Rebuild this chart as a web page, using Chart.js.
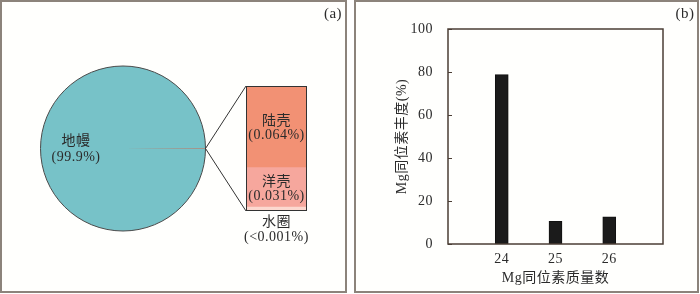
<!DOCTYPE html>
<html>
<head>
<meta charset="utf-8">
<script src="https://cdn.jsdelivr.net/npm/chart.js@4/dist/chart.umd.min.js"></script>
<style>
html, body { margin: 0; padding: 0; background: #fff; }
body { width: 700px; height: 294px; position: relative; overflow: hidden; }
.panel { position: absolute; top: 0; height: 289px; border: 2px solid #8c837b; background: #fffffd; }
canvas { position: absolute; left: 0; top: 0; }
</style>
</head>
<body>
<div class="panel" style="left:0;width:343px"></div>
<div class="panel" style="left:354px;width:341px"></div>
<canvas id="pie" width="700" height="294"></canvas>
<canvas id="stack" width="700" height="294"></canvas>
<canvas id="bars" width="700" height="294"></canvas>
<script>
// (a) earth reservoirs
const mantleLabel = '地幔';
const mantleText = '(99.9%)';
const mantleValue = 99.9;
const crustLabels = ['陆壳', '洋壳', '水圈'];
const crustTexts = ['(0.064%)', '(0.031%)', '(<0.001%)'];
const crustValues = [0.064, 0.031, 0.003];
const crustColors = ['#f29174', '#f6a79d', '#fcd8cf'];

// (b) Mg isotopes
const isotopes = ['24', '25', '26'];
const abundance = [78.8, 10.6, 12.6];
const yTicks = [0, 20, 40, 60, 80, 100];
const xTitle = 'Mg同位素质量数';
const yTitle = 'Mg同位素丰度(%)';

const FONT = "'Liberation Serif', 'Noto Sans CJK SC', serif";
const TXT = '#2b2b2b';
const SIZE = 14;

function label(ctx, text, x, y, size) {
    ctx.save();
    ctx.font = (size || SIZE) + 'px ' + FONT;
    ctx.letterSpacing = '0.5px';
    ctx.fillStyle = TXT;
    ctx.textAlign = 'center';
    ctx.textBaseline = 'middle';
    ctx.fillText(text, x, y);
    ctx.restore();
}

const crustTotal = crustValues.reduce((a, b) => a + b, 0);

const pieChart = new Chart(document.getElementById('pie'), {
    type: 'pie',
    data: {
        labels: ['地壳+水圈', mantleLabel],
        datasets: [{
            data: [crustTotal, mantleValue],
            backgroundColor: ['#d65a3c', '#77c2c8'],
            borderColor: ['#d65a3c', '#77c2c8'],
            borderWidth: [1, 0]
        }]
    },
    options: {
        responsive: false,
        animation: false,
        devicePixelRatio: 1,
        rotation: 90 - crustTotal * 1.8,
        layout: { padding: { left: 40, top: 65, right: 494, bottom: 62 } },
        plugins: { legend: { display: false }, tooltip: { enabled: false } }
    },
    plugins: [{
        id: 'pieExtras',
        afterDatasetsDraw(chart) {
            const ctx = chart.ctx;
            const arc = chart.getDatasetMeta(0).data[1];
            ctx.save();
            ctx.strokeStyle = '#4a4a4a';
            ctx.lineWidth = 1;
            ctx.beginPath();
            ctx.arc(arc.x, arc.y, arc.outerRadius, 0, Math.PI * 2);
            ctx.stroke();
            ctx.restore();
            const lx = arc.x - arc.outerRadius * 0.57;
            label(ctx, mantleLabel, lx, arc.y - 7);
            label(ctx, mantleText, lx, arc.y + 9);
            label(ctx, '(a)', 333, 14, 15);
        }
    }]
});

new Chart(document.getElementById('stack'), {
    type: 'bar',
    data: {
        labels: ['地壳'],
        // bottom to top: water, ocean crust, continental crust
        datasets: [2, 1, 0].map(i => ({
            label: crustLabels[i],
            data: [crustValues[i]],
            backgroundColor: crustColors[i],
            borderWidth: 0,
            barPercentage: 1,
            categoryPercentage: 1
        }))
    },
    options: {
        responsive: false,
        animation: false,
        devicePixelRatio: 1,
        layout: { padding: { left: 246, top: 86, right: 393, bottom: 83 } },
        scales: {
            x: { display: false, stacked: true },
            y: { display: false, stacked: true, min: 0, max: crustTotal }
        },
        plugins: { legend: { display: false }, tooltip: { enabled: false } }
    },
    plugins: [{
        id: 'stackExtras',
        afterDatasetsDraw(chart) {
            const ctx = chart.ctx;
            const a = chart.chartArea;
            const arc = pieChart.getDatasetMeta(0).data[1];
            const px = arc.x + arc.outerRadius, py = arc.y;
            ctx.save();
            ctx.strokeStyle = '#333';
            ctx.lineWidth = 1;
            ctx.strokeRect(a.left + 0.5, a.top + 0.5, a.right - a.left - 1, a.bottom - a.top - 1);
            ctx.beginPath();
            ctx.moveTo(px, py); ctx.lineTo(a.left, a.top);
            ctx.moveTo(px, py); ctx.lineTo(a.left, a.bottom);
            ctx.stroke();
            ctx.restore();
            const cx = (a.left + a.right) / 2;
            [2, 1].forEach(ds => {
                const i = 2 - ds;
                const bar = chart.getDatasetMeta(ds).data[0];
                const cy = (bar.y + bar.base) / 2 + 2;
                label(ctx, crustLabels[i], cx, cy - 7);
                label(ctx, crustTexts[i], cx, cy + 7);
            });
            label(ctx, crustLabels[2], cx, a.bottom + 11);
            label(ctx, crustTexts[2], cx, a.bottom + 26);
        }
    }]
});

new Chart(document.getElementById('bars'), {
    type: 'bar',
    data: {
        labels: ['', ...isotopes, ''],
        datasets: [{
            data: [null, ...abundance, null],
            backgroundColor: '#1b1b1b',
            borderColor: '#111',
            borderWidth: 1,
            barThickness: 13
        }]
    },
    options: {
        responsive: false,
        animation: false,
        devicePixelRatio: 1,
        layout: { padding: { left: 394, top: 29, right: 37, bottom: 7 } },
        scales: {
            x: {
                offset: false,
                grid: { display: false, drawTicks: false },
                border: { display: false },
                ticks: { color: TXT, font: { family: FONT, size: SIZE }, padding: 7, autoSkip: false, maxRotation: 0 },
                title: { display: true, text: xTitle, color: TXT, font: { family: FONT, size: SIZE }, padding: 0 },
                afterFit(s) { s.height = 43; }
            },
            y: {
                min: 0,
                max: 100,
                afterBuildTicks(s) { s.ticks = yTicks.map(v => ({ value: v })); },
                grid: { display: false },
                border: { display: false },
                ticks: { color: TXT, font: { family: FONT, size: SIZE }, padding: 7 },
                title: { display: true, text: yTitle, color: TXT, font: { family: FONT, size: SIZE }, padding: 0 },
                afterFit(s) { s.width = 54; }
            }
        },
        plugins: { legend: { display: false }, tooltip: { enabled: false } }
    },
    plugins: [{
        id: 'frame',
        beforeDraw(chart) { chart.ctx.letterSpacing = '0.5px'; },
        afterDraw(chart) {
            const ctx = chart.ctx;
            const a = chart.chartArea;
            const y = chart.scales.y;
            ctx.save();
            ctx.strokeStyle = '#4b3e35';
            ctx.lineWidth = 1.5;
            ctx.strokeRect(a.left, a.top, a.right - a.left, a.bottom - a.top);
            ctx.lineWidth = 1;
            ctx.beginPath();
            yTicks.forEach(v => {
                const py = Math.round(y.getPixelForValue(v)) + 0.5;
                ctx.moveTo(a.left, py);
                ctx.lineTo(a.left + 4, py);
            });
            ctx.stroke();
            ctx.restore();
            label(ctx, '(b)', 685, 14, 15);
        }
    }]
});
</script>
</body>
</html>
